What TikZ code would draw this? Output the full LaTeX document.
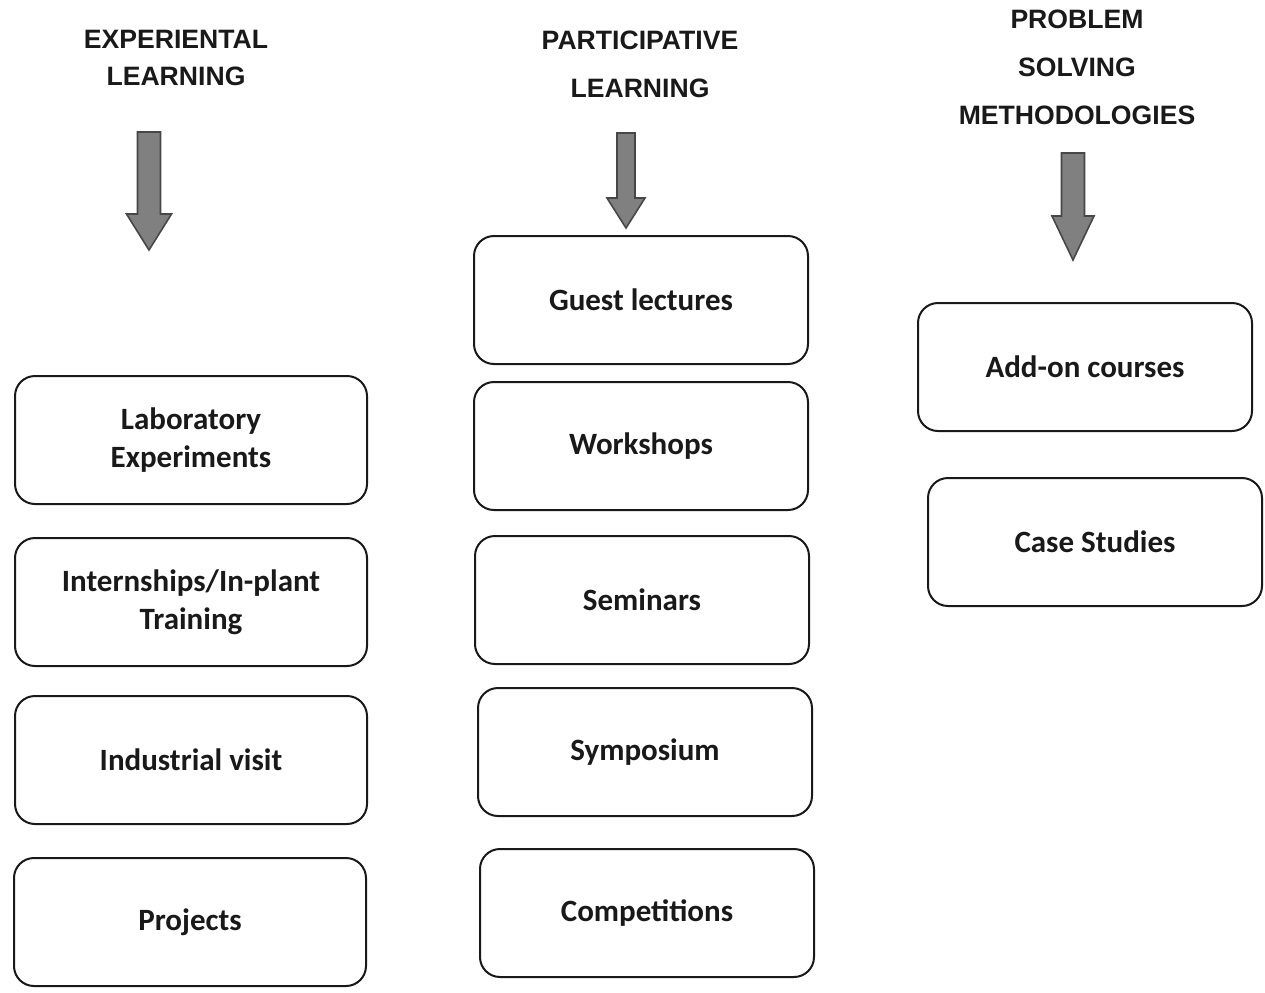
\documentclass[tikz,border=0pt]{standalone}
\usepackage{fontspec}
\setmainfont{Carlito}
\newfontfamily\headfont{Liberation Sans}
\usepackage{tikz}
\usetikzlibrary{calc}
\definecolor{inkdark}{RGB}{25,25,25}
\definecolor{arrowgray}{RGB}{128,128,128}
\tikzset{
  headtext/.style={font=\headfont\bfseries\fontsize{13.3}{24}\selectfont, text=inkdark, align=center},
  methodbox/.style={draw=inkdark, line width=1pt, rounded corners=10pt,
    minimum width=167pt, minimum height=64pt, align=center,
    font=\bfseries\fontsize{15.5}{19}\selectfont, text=inkdark},
  widebox/.style={methodbox, minimum width=176pt},
  fatarrow/.style={fill=arrowgray, draw=inkdark!80, line width=0.8pt, line join=miter}
}
% thick down arrow: centre x, top y, shaft bottom y, tip y, half shaft, half head
\newcommand{\downarrowshape}[6]{%
  \draw[fatarrow] (#1-#5,#2) -- (#1+#5,#2) -- (#1+#5,#3) -- (#1+#6,#3)
    -- (#1,#4) -- (#1-#6,#3) -- (#1-#5,#3) -- cycle;}

\begin{document}
\begin{tikzpicture}[x=0.5pt, y=-0.5pt]
  \useasboundingbox (0,0) rectangle (1265,992);

  % === HEADINGS ===
  \node[headtext, font=\headfont\bfseries\fontsize{13.3}{18.5}\selectfont]
    (expHead) at (176,58) {EXPERIENTAL\\LEARNING};
  \node[headtext] (partHead) at (640,64) {PARTICIPATIVE\\LEARNING};
  \node[headtext] (probHead) at (1077,67) {PROBLEM\\SOLVING\\METHODOLOGIES};

  % === ARROWS ===
  \downarrowshape{149}{132}{214}{250}{11.5}{22.5}
  \downarrowshape{626}{133}{198}{228}{9}{19}
  \downarrowshape{1073}{153}{216}{260}{11.5}{21}

  % === EXPERIENTAL LEARNING ===
  \node[widebox] (labExp) at (191,440) {Laboratory\\Experiments};
  \node[widebox] (intern) at (191,602) {Internships/In-plant\\Training};
  \node[widebox] (indVisit) at (191,760) {Industrial visit};
  \node[widebox] (projects) at (190,922) {Projects};

  % === PARTICIPATIVE LEARNING ===
  \node[methodbox] (guest) at (641,300) {Guest lectures};
  \node[methodbox] (workshops) at (641,446) {Workshops};
  \node[methodbox] (seminars) at (642,600) {Seminars};
  \node[methodbox] (symposium) at (645,752) {Symposium};
  \node[methodbox] (competitions) at (647,913) {Competitions};

  % === PROBLEM SOLVING ===
  \node[methodbox] (addon) at (1085,367) {Add-on courses};
  \node[methodbox] (caseStudies) at (1095,542) {Case Studies};

\end{tikzpicture}
\end{document}
